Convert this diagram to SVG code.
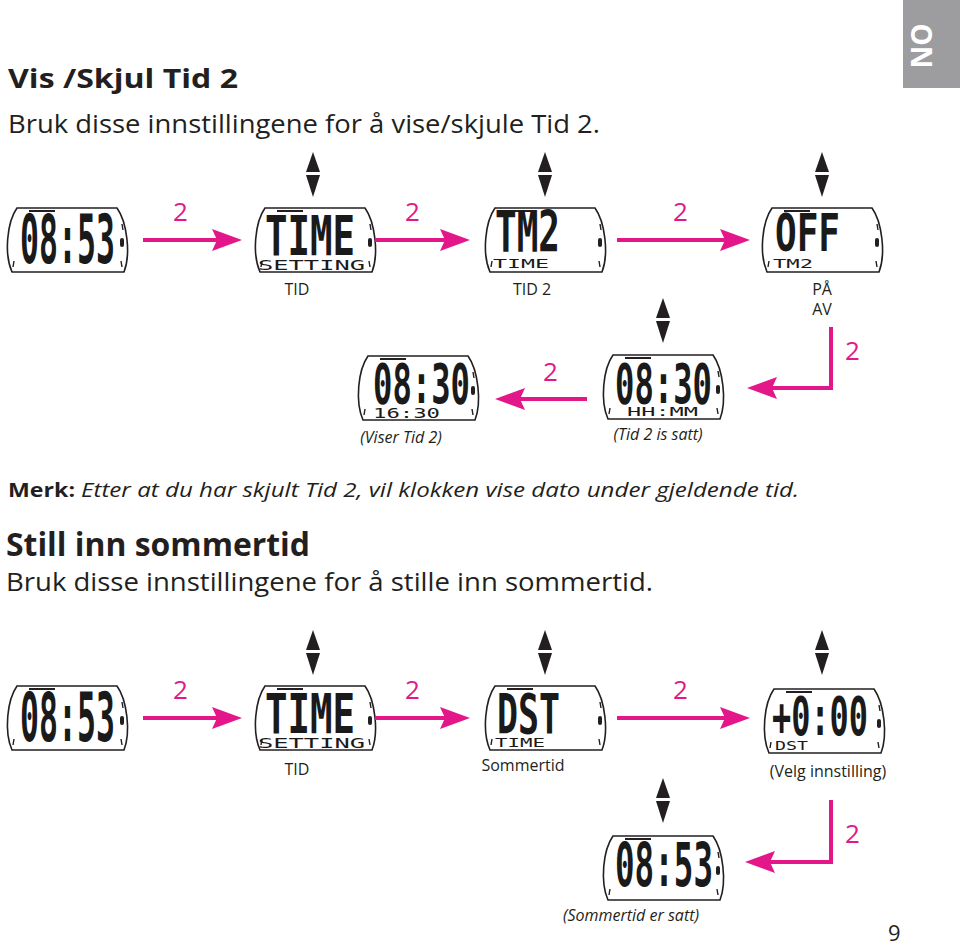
<svg xmlns="http://www.w3.org/2000/svg" xmlns:xlink="http://www.w3.org/1999/xlink" width="960" height="950" viewBox="0 0 960 950">
<style>
.body{font-family:"Open Sans","Liberation Sans",sans-serif;fill:#231f20}
.h{font-weight:bold}
.it{font-style:italic}
.lbl{font-family:"Open Sans","Liberation Sans",sans-serif;font-size:16px;fill:#231f20;text-anchor:middle}
.num{font-family:"Open Sans","Liberation Sans",sans-serif;font-size:26px;fill:#e4178a}
.lcd{font-family:"DejaVu Sans Mono","Liberation Mono",monospace;font-weight:bold;fill:#1a1a1a}
.lcds{font-family:"DejaVu Sans Mono","Liberation Mono",monospace;fill:#1a1a1a}
.wo{fill:#fff;stroke:#231f20;stroke-width:1.6}
.tk{stroke:#231f20;stroke-width:1.4;fill:none}
.pk{stroke:#e4178a;stroke-width:4;fill:none}
.ud{fill:#231f20}
</style>
<defs>
<g id="watch">
<path class="wo" d="M12,0 H112 C122,14 126,46 119,64 H7 C-1,46 2,14 12,0 Z"/>
<rect x="24" y="2" width="26" height="2" fill="#231f20"/>
<rect x="115" y="30" width="4" height="9" rx="2" fill="#231f20"/>
<path class="tk" d="M9,53 L8,59 M116,53 L117,59 M117,16 L118,22"/>
</g>
<g id="ud">
<polygon class="ud" points="0,0 7,20 -7,20"/>
<polygon class="ud" points="-7,23 7,23 0,45"/>
</g>
<marker id="ah" markerUnits="userSpaceOnUse" markerWidth="30" markerHeight="22" viewBox="0 0 30 22" refX="20" refY="11" orient="auto">
<path d="M0,0 L30,11 L0,22 L5,11 Z" fill="#e4178a"/>
</marker>
</defs>
<rect width="960" height="950" fill="#fff"/>

<!-- NO tab -->
<g id="tab">
<rect x="903" y="0" width="57" height="88" fill="#9d9d9f"/>
<text x="0" y="0" transform="translate(932,46) rotate(-90)" text-anchor="middle" font-family="Open Sans,Liberation Sans,sans-serif" font-weight="bold" font-size="28" fill="#fff">NO</text>
</g>

<!-- headings -->
<g id="texts">
<text class="body h" x="8" y="88" font-size="27" textLength="230" lengthAdjust="spacingAndGlyphs">Vis /Skjul Tid 2</text>
<text class="body" x="8" y="133" font-size="25" textLength="592" lengthAdjust="spacingAndGlyphs">Bruk disse innstillingene for å vise/skjule Tid 2.</text>
<text class="body h" x="8" y="497" font-size="20" textLength="67" lengthAdjust="spacingAndGlyphs">Merk:</text>
<text class="body it" x="81" y="497" font-size="20" textLength="718" lengthAdjust="spacingAndGlyphs">Etter at du har skjult Tid 2, vil klokken vise dato under gjeldende tid.</text>
<text class="body h" x="6" y="556" font-size="32" textLength="304" lengthAdjust="spacingAndGlyphs">Still inn sommertid</text>
<text class="body" x="6" y="591" font-size="25" textLength="647" lengthAdjust="spacingAndGlyphs">Bruk disse innstillingene for å stille inn sommertid.</text>
<text class="body" x="888" y="941" font-size="22">9</text>
</g>

<!-- Row 1 -->
<g id="w1" transform="translate(5,208)">
<use xlink:href="#watch"/>
<text class="lcd" x="15" y="55" font-size="68" textLength="95" lengthAdjust="spacingAndGlyphs">08:53</text>
</g>
<g id="w2" transform="translate(253,208)">
<use xlink:href="#watch"/>
<text class="lcd" x="12" y="47" font-size="55" textLength="90" lengthAdjust="spacingAndGlyphs">TIME</text>
<text class="lcds" x="5" y="62" font-size="14" textLength="107" lengthAdjust="spacingAndGlyphs">SETTING</text>
</g>
<g id="w3" transform="translate(483,208)">
<use xlink:href="#watch"/>
<text class="lcd" x="12" y="44" font-size="57" textLength="65" lengthAdjust="spacingAndGlyphs">TM2</text>
<text class="lcds" x="10" y="60" font-size="13" textLength="56" lengthAdjust="spacingAndGlyphs">TIME</text>
</g>
<g id="w4" transform="translate(760,208)">
<use xlink:href="#watch"/>
<text class="lcd" x="15" y="43" font-size="52" textLength="65" lengthAdjust="spacingAndGlyphs">OFF</text>
<text class="lcds" x="13" y="60" font-size="13" textLength="40" lengthAdjust="spacingAndGlyphs">TM2</text>
</g>

<!-- Row 2 -->
<g id="w5" transform="translate(356,356)">
<use xlink:href="#watch"/>
<text class="lcd" x="17" y="47" font-size="56" textLength="97" lengthAdjust="spacingAndGlyphs">08:30</text>
<text class="lcds" x="17" y="62" font-size="14" textLength="67" lengthAdjust="spacingAndGlyphs">16:30</text>
</g>
<g id="w6" transform="translate(601,355)">
<use xlink:href="#watch"/>
<text class="lcd" x="14" y="48" font-size="56" textLength="97" lengthAdjust="spacingAndGlyphs">08:30</text>
<text class="lcds" x="26" y="61" font-size="13" textLength="71" lengthAdjust="spacingAndGlyphs">HH:MM</text>
</g>

<!-- Row 3 -->
<g id="w7" transform="translate(5,686)">
<use xlink:href="#watch"/>
<text class="lcd" x="15" y="55" font-size="68" textLength="95" lengthAdjust="spacingAndGlyphs">08:53</text>
</g>
<g id="w8" transform="translate(253,686)">
<use xlink:href="#watch"/>
<text class="lcd" x="12" y="47" font-size="55" textLength="90" lengthAdjust="spacingAndGlyphs">TIME</text>
<text class="lcds" x="5" y="62" font-size="14" textLength="107" lengthAdjust="spacingAndGlyphs">SETTING</text>
</g>
<g id="w9" transform="translate(483,686)">
<use xlink:href="#watch"/>
<text class="lcd" x="14" y="47" font-size="56" textLength="63" lengthAdjust="spacingAndGlyphs">DST</text>
<text class="lcds" x="12" y="61" font-size="13" textLength="50" lengthAdjust="spacingAndGlyphs">TIME</text>
</g>
<g id="w10" transform="translate(762,689)">
<use xlink:href="#watch"/>
<text class="lcd" x="10" y="46" font-size="54" textLength="96" lengthAdjust="spacingAndGlyphs">+0:00</text>
<text class="lcds" x="13" y="61" font-size="13" textLength="33" lengthAdjust="spacingAndGlyphs">DST</text>
</g>
<g id="w11" transform="translate(601,836)">
<use xlink:href="#watch"/>
<text class="lcd" x="14" y="50" font-size="60" textLength="98" lengthAdjust="spacingAndGlyphs">08:53</text>
</g>

<!-- labels -->
<g id="labels">
<text class="lbl" x="297" y="295">TID</text>
<text class="lbl" x="532" y="295">TID 2</text>
<text class="lbl" x="822" y="295">PÅ</text>
<text class="lbl" x="822" y="315">AV</text>
<text class="lbl it" x="401" y="443">(Viser Tid 2)</text>
<text class="lbl it" x="658" y="440">(Tid 2 is satt)</text>
<text class="lbl" x="297" y="775">TID</text>
<text class="lbl" x="523" y="771">Sommertid</text>
<text class="lbl" x="828" y="777">(Velg innstilling)</text>
<text class="lbl it" x="631" y="921">(Sommertid er satt)</text>
</g>

<!-- connectors -->
<g id="connectors">
<use xlink:href="#ud" x="313" y="152"/>
<use xlink:href="#ud" x="545" y="152"/>
<use xlink:href="#ud" x="822" y="152"/>
<use xlink:href="#ud" x="663" y="298"/>
<use xlink:href="#ud" x="313" y="630"/>
<use xlink:href="#ud" x="545" y="630"/>
<use xlink:href="#ud" x="822" y="630"/>
<use xlink:href="#ud" x="663" y="778"/>

<line class="pk" x1="143" y1="240" x2="232" y2="240" marker-end="url(#ah)"/>
<line class="pk" x1="375" y1="240" x2="460" y2="240" marker-end="url(#ah)"/>
<line class="pk" x1="617" y1="240" x2="740" y2="240" marker-end="url(#ah)"/>
<polyline class="pk" points="831,327 831,388 757,388" marker-end="url(#ah)"/>
<line class="pk" x1="587" y1="399" x2="505" y2="399" marker-end="url(#ah)"/>
<line class="pk" x1="143" y1="718" x2="232" y2="718" marker-end="url(#ah)"/>
<line class="pk" x1="375" y1="718" x2="460" y2="718" marker-end="url(#ah)"/>
<line class="pk" x1="617" y1="718" x2="740" y2="718" marker-end="url(#ah)"/>
<polyline class="pk" points="831,800 831,862 755,862" marker-end="url(#ah)"/>

<text class="num" x="173" y="221">2</text>
<text class="num" x="405" y="221">2</text>
<text class="num" x="673" y="221">2</text>
<text class="num" x="845" y="360">2</text>
<text class="num" x="543" y="381">2</text>
<text class="num" x="173" y="699">2</text>
<text class="num" x="405" y="699">2</text>
<text class="num" x="673" y="699">2</text>
<text class="num" x="845" y="843">2</text>
</g>
</svg>
